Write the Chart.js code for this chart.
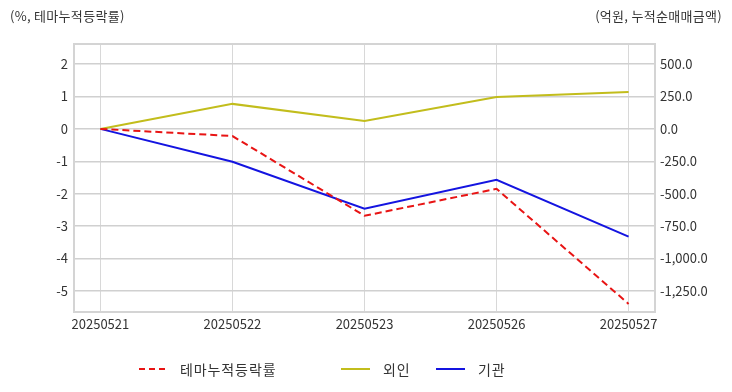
<!DOCTYPE html>
<html>
<head>
<meta charset="utf-8">
<script src="https://cdn.jsdelivr.net/npm/chart.js@4/dist/chart.umd.min.js"></script>
<style>
  html, body { margin: 0; padding: 0; background: #fff; }
  #wrap { position: relative; width: 732px; height: 392px; font-family: "Noto Sans CJK KR", "Noto Sans", sans-serif; color: #333; }
  canvas { position: absolute; left: 0; top: 0; }
  .ttl { position: absolute; top: 6px; font-size: 13px; color: #333; white-space: nowrap; letter-spacing: 0.3px; }
  .leg { position: absolute; top: 359px; height: 20px; font-size: 14px; color: #333; white-space: nowrap; display: flex; align-items: center; letter-spacing: 0.9px; }
  .leg svg { margin-right: 13px; }
</style>
</head>
<body>
<div id="wrap">
  <canvas id="c" width="732" height="392"></canvas>
  <div class="ttl" style="left:10px;">(%, 테마누적등락률)</div>
  <div class="ttl" style="right:10px;">(억원, 누적순매매금액)</div>
  <div class="leg" style="left:139px;"><svg width="28" height="4"><line x1="0" y1="2" x2="28" y2="2" stroke="#e81414" stroke-width="2" stroke-dasharray="6,4"/></svg>테마누적등락률</div>
  <div class="leg" style="left:341px;"><svg width="29" height="4"><line x1="0" y1="2" x2="29" y2="2" stroke="#c2bd1c" stroke-width="2"/></svg>외인</div>
  <div class="leg" style="left:436px;"><svg width="29" height="4"><line x1="0" y1="2" x2="29" y2="2" stroke="#1414e0" stroke-width="2"/></svg>기관</div>
</div>
<script>
const dates = ['20250521', '20250522', '20250523', '20250526', '20250527'];
const themeRate = [0, -0.22, -2.68, -1.85, -5.4];
const foreign = [0, 193, 62, 246, 285];
const institution = [0, -254, -615, -392, -831];
const seriesNames = ['테마누적등락률', '외인', '기관'];

const pts = arr => arr.map((v, i) => ({ x: i, y: v }));

const framePlugin = {
  id: 'frame',
  beforeDatasetsDraw(chart) {
    const { ctx, chartArea: a } = chart;
    ctx.save();
    ctx.strokeStyle = '#d4d4d4';
    ctx.lineWidth = 2;
    ctx.strokeRect(a.left, a.top, a.right - a.left, a.bottom - a.top);
    ctx.restore();
  }
};

const font = { family: '"Noto Sans CJK KR", "Noto Sans", sans-serif', size: 13 };

new Chart(document.getElementById('c'), {
  type: 'line',
  data: {
    datasets: [
      { label: seriesNames[0], data: pts(themeRate), yAxisID: 'y', borderColor: '#e81414', borderWidth: 2, borderDash: [7, 4], pointRadius: 0, tension: 0, fill: false },
      { label: seriesNames[1], data: pts(foreign), yAxisID: 'y1', borderColor: '#c2bd1c', borderWidth: 2, pointRadius: 0, tension: 0, fill: false },
      { label: seriesNames[2], data: pts(institution), yAxisID: 'y1', borderColor: '#1414e0', borderWidth: 2, pointRadius: 0, tension: 0, fill: false }
    ]
  },
  options: {
    responsive: false,
    animation: false,
    devicePixelRatio: 1,
    layout: { padding: { top: 44, left: 0, right: 0, bottom: 0 } },
    plugins: { legend: { display: false }, tooltip: { enabled: false } },
    scales: {
      x: {
        type: 'linear',
        min: -0.2, max: 4.2,
        afterBuildTicks: s => { s.ticks = dates.map((d, i) => ({ value: i })); },
        afterFit: s => { s.height = 80; },
        grid: { color: '#d8d8d8', lineWidth: 1, drawTicks: false },
        border: { display: false },
        ticks: { color: '#333', font, padding: 4, maxRotation: 0, autoSkip: false, callback: v => dates[v] }
      },
      y: {
        position: 'left',
        min: -5.65, max: 2.62,
        afterFit: s => { s.width = 74; },
        grid: { color: '#d0d0d0', lineWidth: 1.5, drawTicks: false },
        border: { display: false },
        ticks: { stepSize: 1, includeBounds: false, color: '#333', font, padding: 6 }
      },
      y1: {
        position: 'right',
        min: -1412.5, max: 655,
        afterFit: s => { s.width = 77; },
        grid: { display: false, drawTicks: false },
        border: { display: false },
        ticks: { stepSize: 250, includeBounds: false, color: '#333', font, padding: 5,
          callback: v => Number(v).toLocaleString('en-US', { minimumFractionDigits: 1, maximumFractionDigits: 1 }) }
      }
    }
  },
  plugins: [framePlugin]
});
</script>
</body>
</html>
